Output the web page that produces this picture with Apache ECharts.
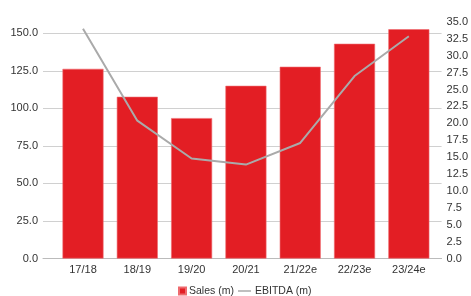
<!DOCTYPE html>
<html>
    <head>
        <meta charset="utf-8">
        <script src="https://cdn.jsdelivr.net/npm/echarts@6/dist/echarts.min.js"></script>
    </head>
    <body style="margin:0">
        <style>
            html, body, #main {
                width: 471px;
                height: 296px;
            }
        </style>
        <div id="main"></div>
        <script>
            var years = ['17/18', '18/19', '19/20', '20/21', '21/22e', '22/23e', '23/24e'];
            var sales = [126.3, 107.7, 93.5, 115.0, 127.7, 143.0, 152.7];
            var ebitda = [34.0, 20.4, 14.8, 13.9, 17.1, 27.0, 32.9];

            var font = 'Liberation Sans, Arial, sans-serif';
            var textColor = '#333';

            var chart = echarts.init(document.getElementById('main'));

            chart.setOption({
                animation: false,
                grid: [
                    // outer grid: gridlines + axis labels
                    { left: 43, right: 21, top: 22, bottom: 37.5 },
                    // inner grid: the bars and line
                    { left: 55.85, right: 35, top: 22, bottom: 37.5 }
                ],
                legend: [{
                    left: 178,
                    top: 285.5,
                    padding: 0,
                    itemWidth: 7,
                    itemHeight: 7,
                    icon: 'rect',
                    textStyle: { fontFamily: font, fontSize: 10.5, color: textColor, padding: [0, 0, 0, -2] },
                    data: ['Sales (m)']
                }, {
                    left: 238,
                    top: 285.5,
                    padding: 0,
                    itemWidth: 13,
                    itemHeight: 7,
                    icon: 'path://M0,3H13V4.5H0Z',
                    textStyle: { fontFamily: font, fontSize: 10.5, color: textColor, padding: [0, 0, 0, -1] },
                    data: ['EBITDA (m)']
                }],
                xAxis: [{
                    gridIndex: 0,
                    type: 'category',
                    data: [''],
                    axisLine: { lineStyle: { color: '#bbb' } },
                    axisTick: { show: false },
                    axisLabel: { show: false }
                }, {
                    gridIndex: 1,
                    type: 'category',
                    data: years,
                    axisLine: { show: false },
                    axisTick: { show: false },
                    axisLabel: { margin: 6, fontFamily: font, fontSize: 11, color: textColor }
                }],
                yAxis: [{
                    gridIndex: 0,
                    type: 'value',
                    min: 0,
                    max: 157.5,
                    interval: 25,
                    axisLabel: {
                        margin: 5,
                        showMaxLabel: false,
                        fontFamily: font, fontSize: 11, color: textColor,
                        formatter: function (v) { return v.toFixed(1); }
                    },
                    splitLine: { showMaxLine: false, lineStyle: { color: '#d0d0d0', width: 1 } }
                }, {
                    gridIndex: 0,
                    type: 'value',
                    position: 'right',
                    min: 0,
                    max: 35,
                    interval: 2.5,
                    axisLabel: {
                        margin: 5,
                        fontFamily: font, fontSize: 11, color: textColor,
                        formatter: function (v) { return v.toFixed(1); }
                    },
                    splitLine: { show: false }
                }, {
                    gridIndex: 1,
                    type: 'value',
                    min: 0,
                    max: 157.5,
                    show: false
                }, {
                    gridIndex: 1,
                    type: 'value',
                    min: 0,
                    max: 35,
                    show: false
                }],
                series: [{
                    name: 'Sales (m)',
                    type: 'bar',
                    xAxisIndex: 1,
                    yAxisIndex: 2,
                    barWidth: 41,
                    itemStyle: { color: '#e31e24', borderColor: '#ee6a6e', borderWidth: 0.6 },
                    data: sales
                }, {
                    name: 'EBITDA (m)',
                    type: 'line',
                    xAxisIndex: 1,
                    yAxisIndex: 3,
                    symbol: 'none',
                    lineStyle: { color: '#aaaaaa', width: 2 },
                    itemStyle: { color: '#aaaaaa' },
                    data: ebitda
                }]
            });
        </script>
    </body>
</html>
